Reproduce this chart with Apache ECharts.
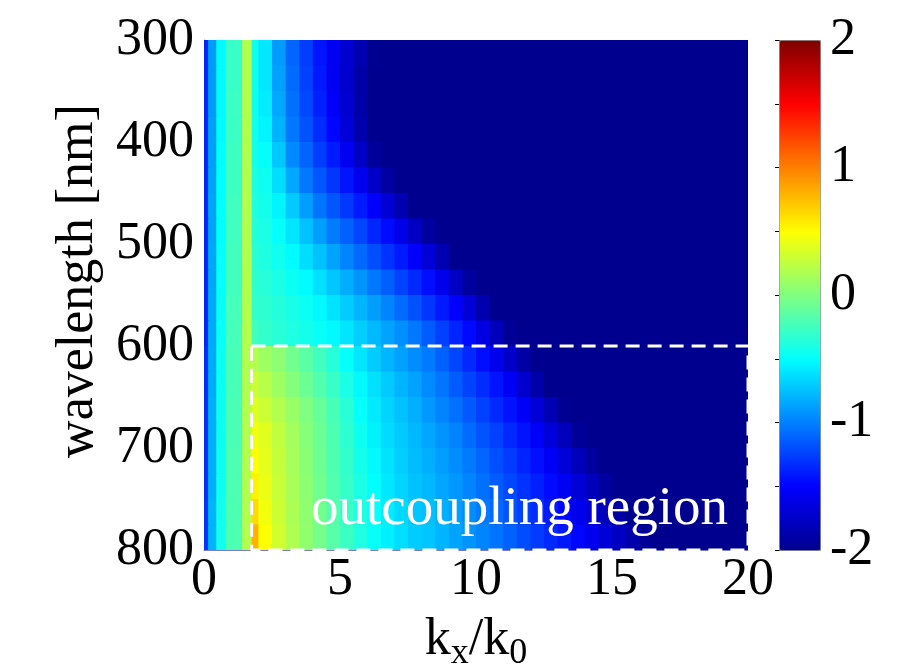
<!DOCTYPE html>
<html>
<head>
<meta charset="utf-8">
<script src="https://cdn.jsdelivr.net/npm/echarts@6/dist/echarts.min.js"></script>
<style>
  html, body { margin: 0; padding: 0; background: #fff; }
  #chart { width: 920px; height: 664px; }
</style>
</head>
<body>
<div id="chart"></div>
<script>
// cell edges along kx/k0 and wavelength (nm)
const kxEdges = [0, 0.15, 0.45, 0.8, 1.4, 1.75, 2, 2.5, 3, 3.5, 4, 4.5, 5, 5.5, 6, 6.5, 7, 7.5, 8,
  8.5, 9, 9.5, 10, 10.5, 11, 11.5, 12, 12.5, 13, 13.5, 14, 14.5, 15, 15.5, 16, 16.5, 17, 17.5, 18, 19, 20]
const wlEdges = [300, 325, 350, 375, 400, 425, 450, 475, 500, 525, 550, 575, 600, 625, 650, 675,
  700, 725, 750, 775, 800]

// saturated dark blue level (below the colour range)
const N = -2.3

// one row per wavelength band, one value per kx cell
const fieldRows = [
  [-1.35, -0.9, -0.52, -0.28, 0.2, -0.45, -0.59, -0.89, -1.1, -1.26, -1.42, -1.56, -1.71, -1.85, -1.99, -2.2, N, N, N, N, N, N, N, N, N, N, N, N, N, N, N, N, N, N, N, N, N, N, N, N],
  [-1.35, -0.9, -0.52, -0.28, 0.2, -0.45, -0.59, -0.87, -1.08, -1.25, -1.4, -1.56, -1.72, -1.89, -2.05, N, N, N, N, N, N, N, N, N, N, N, N, N, N, N, N, N, N, N, N, N, N, N, N, N],
  [-1.35, -0.9, -0.52, -0.27, 0.2, -0.45, -0.57, -0.84, -1.06, -1.22, -1.37, -1.53, -1.71, -1.89, -2.07, N, N, N, N, N, N, N, N, N, N, N, N, N, N, N, N, N, N, N, N, N, N, N, N, N],
  [-1.35, -0.88, -0.51, -0.27, 0.2, -0.44, -0.54, -0.8, -1.03, -1.18, -1.33, -1.48, -1.67, -1.87, -2.07, N, N, N, N, N, N, N, N, N, N, N, N, N, N, N, N, N, N, N, N, N, N, N, N, N],
  [-1.35, -0.88, -0.5, -0.26, 0.2, -0.42, -0.49, -0.72, -0.96, -1.11, -1.26, -1.4, -1.56, -1.75, -1.94, -2.1, N, N, N, N, N, N, N, N, N, N, N, N, N, N, N, N, N, N, N, N, N, N, N, N],
  [-1.35, -0.87, -0.5, -0.26, 0.2, -0.4, -0.45, -0.63, -0.84, -1.03, -1.16, -1.29, -1.42, -1.57, -1.74, -1.91, -2.08, N, N, N, N, N, N, N, N, N, N, N, N, N, N, N, N, N, N, N, N, N, N, N],
  [-1.35, -0.86, -0.49, -0.25, 0.2, -0.38, -0.42, -0.54, -0.71, -0.88, -1.04, -1.16, -1.28, -1.4, -1.52, -1.69, -1.85, -2.02, N, N, N, N, N, N, N, N, N, N, N, N, N, N, N, N, N, N, N, N, N, N],
  [-1.35, -0.86, -0.49, -0.25, 0.2, -0.36, -0.4, -0.48, -0.6, -0.74, -0.88, -1.01, -1.12, -1.23, -1.35, -1.46, -1.6, -1.76, -1.92, N, N, N, N, N, N, N, N, N, N, N, N, N, N, N, N, N, N, N, N, N],
  [-1.35, -0.85, -0.48, -0.24, 0.2, -0.34, -0.38, -0.44, -0.51, -0.63, -0.74, -0.86, -0.98, -1.09, -1.19, -1.3, -1.4, -1.52, -1.68, -1.84, -2.0, N, N, N, N, N, N, N, N, N, N, N, N, N, N, N, N, N, N, N],
  [-1.35, -0.85, -0.48, -0.24, 0.2, -0.32, -0.35, -0.4, -0.46, -0.51, -0.62, -0.72, -0.82, -0.92, -1.03, -1.13, -1.24, -1.34, -1.45, -1.59, -1.76, -1.93, -2.1, N, N, N, N, N, N, N, N, N, N, N, N, N, N, N, N, N],
  [-1.35, -0.84, -0.47, -0.23, 0.2, -0.3, -0.32, -0.36, -0.41, -0.46, -0.52, -0.61, -0.7, -0.79, -0.88, -0.98, -1.08, -1.18, -1.29, -1.4, -1.51, -1.68, -1.86, -2.04, N, N, N, N, N, N, N, N, N, N, N, N, N, N, N, N],
  [-1.35, -0.84, -0.47, -0.23, 0.2, -0.25, -0.3, -0.34, -0.38, -0.42, -0.47, -0.52, -0.6, -0.69, -0.77, -0.86, -0.94, -1.03, -1.14, -1.25, -1.36, -1.47, -1.63, -1.8, -1.97, -2.13, N, N, N, N, N, N, N, N, N, N, N, N, N, N],
  [-1.33, -0.83, -0.46, -0.22, 0.2, 0.2, 0.12, 0.05, -0.05, -0.15, -0.25, -0.35, -0.48, -0.6, -0.7, -0.79, -0.87, -0.95, -1.02, -1.12, -1.23, -1.34, -1.45, -1.58, -1.74, -1.9, -2.07, N, N, N, N, N, N, N, N, N, N, N, N, N],
  [-1.33, -0.83, -0.46, -0.22, 0.2, 0.3, 0.22, 0.12, 0.02, -0.08, -0.18, -0.28, -0.4, -0.52, -0.62, -0.71, -0.79, -0.86, -0.96, -1.04, -1.14, -1.24, -1.33, -1.43, -1.55, -1.72, -1.88, -2.05, N, N, N, N, N, N, N, N, N, N, N, N],
  [-1.32, -0.82, -0.45, -0.21, 0.2, 0.38, 0.3, 0.2, 0.1, 0.0, -0.1, -0.22, -0.34, -0.48, -0.58, -0.67, -0.74, -0.81, -0.9, -0.98, -1.06, -1.15, -1.25, -1.34, -1.43, -1.53, -1.68, -1.83, -1.98, -2.14, N, N, N, N, N, N, N, N, N, N],
  [-1.32, -0.82, -0.45, -0.21, 0.2, 0.45, 0.38, 0.25, 0.14, 0.03, -0.08, -0.2, -0.32, -0.45, -0.55, -0.64, -0.71, -0.78, -0.85, -0.92, -0.99, -1.08, -1.17, -1.25, -1.34, -1.43, -1.53, -1.67, -1.81, -1.96, -2.1, N, N, N, N, N, N, N, N, N],
  [-1.32, -0.81, -0.44, -0.2, 0.2, 0.5, 0.4, 0.27, 0.15, 0.04, -0.07, -0.19, -0.3, -0.42, -0.52, -0.61, -0.69, -0.76, -0.81, -0.88, -0.95, -1.02, -1.1, -1.19, -1.27, -1.36, -1.44, -1.54, -1.67, -1.8, -1.93, -2.07, N, N, N, N, N, N, N, N],
  [-1.32, -0.81, -0.44, -0.2, 0.2, 0.55, 0.42, 0.28, 0.16, 0.05, -0.06, -0.18, -0.29, -0.4, -0.5, -0.59, -0.67, -0.74, -0.78, -0.85, -0.91, -0.98, -1.06, -1.14, -1.22, -1.3, -1.38, -1.46, -1.56, -1.68, -1.8, -1.92, -2.04, N, N, N, N, N, N, N],
  [-1.3, -0.8, -0.43, -0.2, 0.2, 0.65, 0.45, 0.3, 0.17, 0.06, -0.05, -0.17, -0.28, -0.39, -0.48, -0.57, -0.65, -0.72, -0.75, -0.82, -0.88, -0.95, -1.02, -1.09, -1.17, -1.25, -1.32, -1.4, -1.48, -1.58, -1.68, -1.79, -1.9, -2.01, N, N, N, N, N, N],
  [-1.3, -0.8, -0.43, -0.2, 0.2, 0.8, 0.5, 0.32, 0.18, 0.07, -0.04, -0.16, -0.27, -0.38, -0.47, -0.56, -0.63, -0.7, -0.73, -0.79, -0.86, -0.92, -0.98, -1.05, -1.12, -1.2, -1.27, -1.34, -1.41, -1.48, -1.57, -1.67, -1.77, -1.87, -1.97, -2.07, N, N, N, N],
]

// dashed box corners [kx, wavelength]
const outRegion = [[1.75, 600], [20, 600], [20, 800], [1.75, 800], [1.75, 600]]
const outLabel = 'outcoupling region'
const colorRange = [-2, 2]
const jet = ['#00008f', '#0000ff', '#0080ff', '#00ffff', '#80ff80', '#ffff00', '#ff8000', '#ff0000', '#800000']

const FONT = 'Liberation Serif'

// cells for the custom series: [kx0, kx1, wl0, wl1, value], value clipped to the colour range
const cells = []
fieldRows.forEach((row, j) => {
  row.forEach((v, i) => {
    cells.push([kxEdges[i], kxEdges[i + 1], wlEdges[j], wlEdges[j + 1],
      Math.max(colorRange[0], Math.min(colorRange[1], v))])
  })
})

const chart = echarts.init(document.getElementById('chart'))

const bigLabel = { fontFamily: FONT, fontSize: 52, color: '#000' }

chart.setOption({
  animation: false,
  backgroundColor: '#fff',
  grid: [
    { left: 204, top: 40, width: 544, height: 510, outerBoundsMode: 'none' },
    // colorbar
    { left: 779, top: 40, width: 41, height: 510, outerBoundsMode: 'none' },
  ],
  xAxis: [
    {
      type: 'value',
      min: 0,
      max: 20,
      interval: 5,
      axisLine: { show: true, lineStyle: { color: '#7b7bc4', width: 1 } },
      axisTick: { show: false },
      splitLine: { show: false },
      axisLabel: { ...bigLabel, margin: 4 },
      name: 'k{s|x}/k{s|0}',
      nameLocation: 'middle',
      nameGap: 58,
      nameTextStyle: {
        ...bigLabel,
        rich: { s: { fontFamily: FONT, fontSize: 36, color: '#000', padding: [28, 0, 0, 0] } },
      },
    },
    { gridIndex: 1, type: 'value', min: 0, max: 1, show: false },
  ],
  yAxis: [
    {
      type: 'value',
      inverse: true,
      min: 300,
      max: 800,
      interval: 100,
      axisLine: { show: true, lineStyle: { color: '#9a9ab8', width: 1 } },
      axisTick: { show: false },
      splitLine: { show: false },
      axisLabel: { ...bigLabel, margin: 10 },
      name: 'wavelength [nm]',
      nameLocation: 'middle',
      nameRotate: 90,
      nameGap: 100,
      nameTextStyle: { ...bigLabel, padding: [0, 0, 0, 28] },
    },
    {
      gridIndex: 1,
      type: 'value',
      min: -2,
      max: 2,
      interval: 0.5,
      position: 'right',
      axisLine: { show: false },
      axisTick: { show: true, inside: true, length: 4, lineStyle: { color: '#000' } },
      splitLine: { show: false },
      axisLabel: {
        ...bigLabel,
        margin: 10,
        formatter: (v) => (Number.isInteger(v) ? String(v) : ''),
      },
    },
    {
      gridIndex: 1,
      type: 'value',
      min: -2,
      max: 2,
      interval: 0.5,
      position: 'left',
      axisLine: { show: false },
      axisTick: { show: true, inside: true, length: 4, lineStyle: { color: '#000' } },
      axisLabel: { show: false },
      splitLine: { show: false },
    },
  ],
  visualMap: {
    type: 'continuous',
    seriesIndex: 0,
    dimension: 4,
    min: colorRange[0],
    max: colorRange[1],
    calculable: false,
    hoverLink: false,
    orient: 'vertical',
    left: 779,
    top: 40,
    itemWidth: 41,
    itemHeight: 510,
    padding: 0,
    borderColor: '#8a8a8a',
    borderWidth: 1,
    inRange: { color: jet },
  },
  series: [
    {
      type: 'custom',
      xAxisIndex: 0,
      yAxisIndex: 0,
      clip: true,
      silent: true,
      encode: { x: [0, 1], y: [2, 3] },
      renderItem: function (params, api) {
        const p0 = api.coord([api.value(0), api.value(2)])
        const p1 = api.coord([api.value(1), api.value(3)])
        return {
          type: 'rect',
          shape: {
            x: Math.min(p0[0], p1[0]),
            y: Math.min(p0[1], p1[1]),
            width: Math.abs(p1[0] - p0[0]) + 1,
            height: Math.abs(p1[1] - p0[1]) + 1,
          },
          style: { fill: api.visual('color') },
        }
      },
      data: cells,
    },
    {
      // dashed outline of the outcoupling region
      type: 'line',
      xAxisIndex: 0,
      yAxisIndex: 0,
      silent: true,
      showSymbol: false,
      symbol: 'none',
      z: 5,
      lineStyle: { color: '#fff', width: 3, type: [14, 8] },
      data: outRegion,
    },
    {
      type: 'scatter',
      xAxisIndex: 0,
      yAxisIndex: 0,
      silent: true,
      symbolSize: 0,
      z: 6,
      itemStyle: { color: '#fff', opacity: 1 },
      label: {
        show: true,
        formatter: '{b}',
        position: [0, 0],
        align: 'right',
        verticalAlign: 'bottom',
        offset: [-20, -13],
        color: '#fff',
        opacity: 1,
        fontFamily: FONT,
        fontSize: 55,
      },
      data: [{ name: outLabel, value: outRegion[2] }],
    },
  ],
})
</script>
</body>
</html>
